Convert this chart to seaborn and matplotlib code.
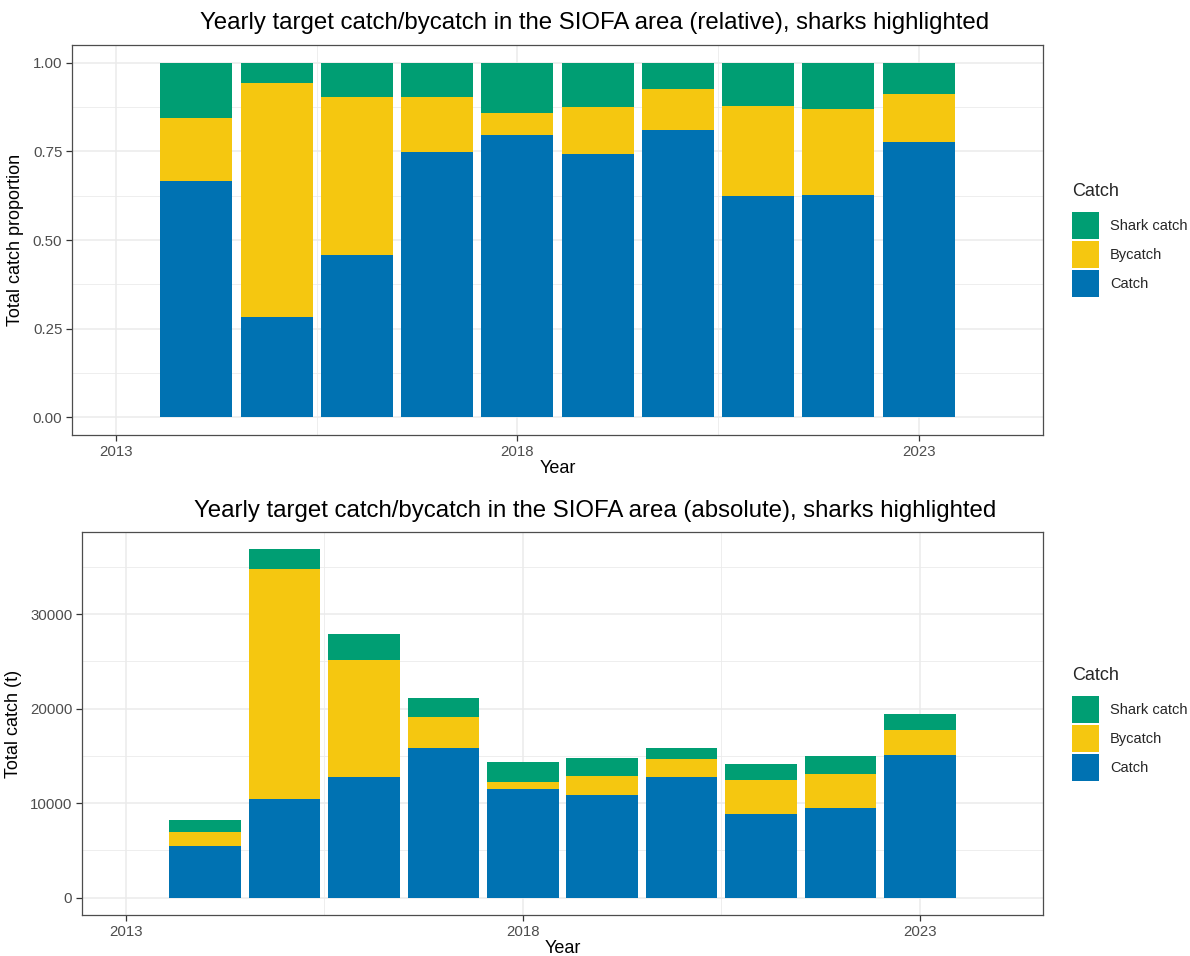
import pandas as pd
import seaborn as sns
from matplotlib import pyplot as plt
from matplotlib.patches import Patch

years = [2014, 2015, 2016, 2017, 2018, 2019, 2020, 2021, 2022, 2023]

# relative (proportion of total)
rel_catch = [0.665, 0.283, 0.458, 0.748, 0.795, 0.742, 0.810, 0.624, 0.628, 0.777]
rel_bycatch = [0.180, 0.660, 0.444, 0.154, 0.062, 0.133, 0.115, 0.255, 0.242, 0.135]
rel_shark = [0.155, 0.057, 0.098, 0.098, 0.143, 0.125, 0.075, 0.121, 0.130, 0.088]

# absolute tonnes
abs_catch = [5470, 10460, 12740, 15860, 11470, 10880, 12810, 8840, 9440, 15090]
abs_bycatch = [1520, 24320, 12390, 3270, 810, 2030, 1860, 3650, 3610, 2590]
abs_shark = [1260, 2060, 2800, 2030, 2040, 1830, 1160, 1650, 1970, 1720]

levels = ["Shark catch", "Bycatch", "Catch"]
colors = {"Shark catch": "#009E73", "Bycatch": "#F5C710", "Catch": "#0072B2"}

sns.set_theme(style="white")
plt.rcParams["font.family"] = ["Liberation Sans", "DejaVu Sans"]

fig = plt.figure(figsize=(11.9, 9.56), dpi=100)
W, H = 1190, 956
ax1 = fig.add_axes([72 / W, 1 - 435 / H, (1043 - 72) / W, (435 - 45) / H])
ax2 = fig.add_axes([82 / W, 1 - 915 / H, (1043 - 82) / W, (915 - 532) / H])


def draw(ax, catch, bycatch, shark, title, title_y, ylabel, yticks, yminor, ylim, fmt):
    df = pd.DataFrame({"Year": years, "Catch": catch, "Bycatch": bycatch, "Shark catch": shark})
    df["c1"] = df["Catch"]
    df["c2"] = df["Catch"] + df["Bycatch"]
    df["c3"] = df["c2"] + df["Shark catch"]
    for col, lev in [("c3", "Shark catch"), ("c2", "Bycatch"), ("c1", "Catch")]:
        sns.barplot(data=df, x="Year", y=col, native_scale=True, width=0.9,
                    color=colors[lev], saturation=1, linewidth=0, ax=ax)
    ax.set_xlim(2012.45, 2024.55)
    ax.set_ylim(*ylim)
    ax.set_xticks([2013, 2018, 2023])
    ax.set_xticks([2015.5, 2020.5], minor=True)
    ax.set_yticks(yticks)
    ax.set_yticks(yminor, minor=True)
    ax.set_yticklabels([fmt(v) for v in yticks])
    ax.grid(True, which="major", color="#EBEBEB", linewidth=1.1)
    ax.grid(True, which="minor", color="#EBEBEB", linewidth=0.6)
    ax.set_axisbelow(True)
    for s in ax.spines.values():
        s.set_color("#4D4D4D")
        s.set_linewidth(0.9)
    ax.tick_params(axis="both", which="major", length=4, width=0.9, color="#333333",
                   labelsize=10.8, labelcolor="#4D4D4D", pad=3, bottom=True, left=True)
    ax.tick_params(axis="both", which="minor", length=0)
    ax.set_xlabel("Year", fontsize=13, color="black", labelpad=1)
    ax.set_ylabel(ylabel, fontsize=13, color="black", labelpad=6)
    fig.text(0.5, 1 - title_y / H, title, fontsize=17.3, color="black",
             ha="center", va="center")


draw(ax1, rel_catch, rel_bycatch, rel_shark,
     "Yearly target catch/bycatch in the SIOFA area (relative), sharks highlighted", 23,
     "Total catch proportion", [0, 0.25, 0.5, 0.75, 1.0], [0.125, 0.375, 0.625, 0.875],
     (-0.05, 1.05), lambda v: f"{v:.2f}")
draw(ax2, abs_catch, abs_bycatch, abs_shark,
     "Yearly target catch/bycatch in the SIOFA area (absolute), sharks highlighted", 511,
     "Total catch (t)", [0, 10000, 20000, 30000], [5000, 15000, 25000, 35000],
     (-1842, 38682), lambda v: f"{int(v)}")

handles = [Patch(facecolor=colors[l], edgecolor="none") for l in levels]
for ax, ycen in [(ax1, 240), (ax2, 724)]:
    leg = fig.legend(handles, levels, title="Catch", loc="center left",
                     bbox_to_anchor=(1072 / W, 1 - ycen / H), frameon=False,
                     fontsize=10.5, title_fontsize=13, handlelength=1.85, handleheight=2.45,
                     handletextpad=0.75, labelspacing=0.15, borderaxespad=0, borderpad=0)
    leg._legend_box.align = "left"
    leg._legend_box.sep = 9

fig.savefig("out.png", dpi=100)
